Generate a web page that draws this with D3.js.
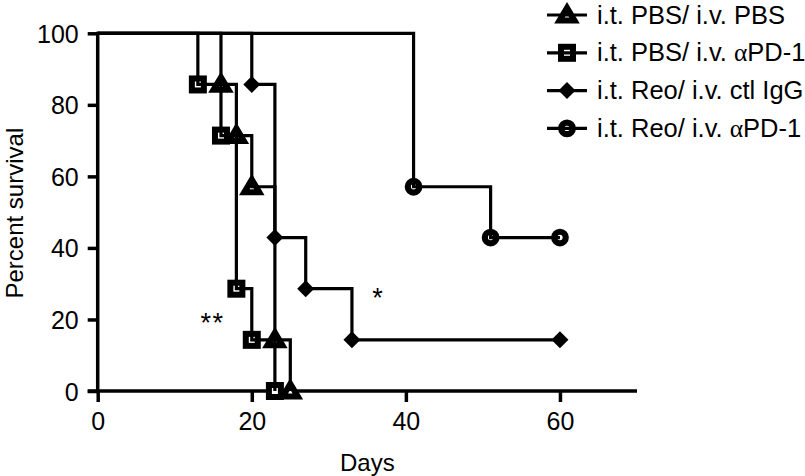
<!DOCTYPE html>
<html>
<head>
<meta charset="utf-8">
<script src="https://cdn.jsdelivr.net/npm/d3@7"></script>
<style>
  html, body { margin: 0; padding: 0; background: #fff; }
  svg { display: block; }
  text { font-family: "Liberation Sans", Arial, Helvetica, sans-serif; fill: #000; }
</style>
</head>
<body>
<svg id="chart" width="805" height="476"></svg>
<script>
// ---- Data ----
const seriesNames = ["i.t. PBS/ i.v. PBS", "i.t. PBS/ i.v. \u03b1PD-1", "i.t. Reo/ i.v. ctl IgG", "i.t. Reo/ i.v. \u03b1PD-1"];
const seriesSymbols = ["triangle", "square", "diamond", "circle"];

const pbsPbsDays = [0, 16, 18, 20, 23, 25];
const pbsPbsSurvival = [100, 85.7, 71.4, 57.1, 14.3, 0];

const pbsPd1Days = [0, 13, 16, 18, 20, 23];
const pbsPd1Survival = [100, 85.7, 71.4, 28.6, 14.3, 0];

const reoIgGDays = [0, 20, 23, 27, 33, 60];
const reoIgGSurvival = [100, 85.7, 42.9, 28.6, 14.3, 14.3];

const reoPd1Days = [0, 41, 51, 60];
const reoPd1Survival = [100, 57.1, 42.9, 42.9];

const xTicks = [0, 20, 40, 60];
const yTicks = [0, 20, 40, 60, 80, 100];

const annotations = [
  { text: "**", day: 14.9, value: 16.4 },
  { text: "*", day: 36.4, value: 23.4 }
];

const seriesData = [
  { days: pbsPbsDays, surv: pbsPbsSurvival },
  { days: pbsPd1Days, surv: pbsPd1Survival },
  { days: reoIgGDays, surv: reoIgGSurvival },
  { days: reoPd1Days, surv: reoPd1Survival }
];

// ---- Layout ----
const svg = d3.select("#chart");
const x = d3.scaleLinear().domain([0, 70]).range([97.7, 637]);
const y = d3.scaleLinear().domain([0, 100]).range([391, 33.3]);

const tickFont = 25;
const titleFont = 24;
const legendFont = 25.5;

// Axes
const yAxis = d3.axisLeft(y).tickValues(yTicks).tickSize(10).tickPadding(9).tickFormat(d3.format("d"));
const xAxis = d3.axisBottom(x).tickValues(xTicks).tickSize(11).tickPadding(10).tickFormat(d3.format("d"));

const gy = svg.append("g").attr("transform", `translate(${x(0)},0)`).call(yAxis);
const gx = svg.append("g").attr("transform", `translate(0,${y(0)})`).call(xAxis);

[gx, gy].forEach(g => {
  g.select(".domain").remove();
  g.selectAll(".tick line").attr("stroke", "#000").attr("stroke-width", 3.5);
  g.selectAll(".tick text").attr("font-size", tickFont).attr("fill", "#000")
    .style("font-family", "'Liberation Sans', Arial, sans-serif");
});
gy.selectAll(".tick text").attr("dy", "0.36em");
// axis lines
svg.append("line").attr("x1", x(0)).attr("x2", x(0)).attr("y1", y(100) - 1.5).attr("y2", y(0))
  .attr("stroke", "#000").attr("stroke-width", 3.5);
svg.append("line").attr("x1", x(0) - 10).attr("x2", x(70)).attr("y1", y(0)).attr("y2", y(0))
  .attr("stroke", "#000").attr("stroke-width", 3.5);

// Axis titles
svg.append("text").attr("x", (x(0) + x(70)) / 2).attr("y", 470.5).attr("text-anchor", "middle")
  .attr("font-size", titleFont).text("Days");
svg.append("text").attr("transform", `translate(23,${(y(0) + y(100)) / 2 + 1}) rotate(-90)`)
  .attr("text-anchor", "middle").attr("font-size", titleFont).text("Percent survival");

// Symbols
function drawSymbol(g, type, cx, cy) {
  if (type === "triangle") {
    const w = 15, h = 12;
    g.append("path")
      .attr("d", `M${cx},${cy - h * 0.6} L${cx + w / 2},${cy + h * 0.45} L${cx - w / 2},${cy + h * 0.45} Z`)
      .attr("fill", "#fff").attr("stroke", "#000").attr("stroke-width", 6).attr("stroke-linejoin", "miter");
  } else if (type === "square") {
    const s = 12;
    g.append("rect").attr("x", cx - s / 2).attr("y", cy - s / 2).attr("width", s).attr("height", s)
      .attr("fill", "#fff").attr("stroke", "#000").attr("stroke-width", 6);
  } else if (type === "diamond") {
    const r = 8.5;
    g.append("path").attr("d", `M${cx},${cy - r} L${cx + r},${cy} L${cx},${cy + r} L${cx - r},${cy} Z`)
      .attr("fill", "#000").attr("stroke", "none");
  } else if (type === "circle") {
    g.append("circle").attr("cx", cx).attr("cy", cy).attr("r", 5.8)
      .attr("fill", "#fff").attr("stroke", "#000").attr("stroke-width", 6.2);
  }
}

// Markers (drawn first, lines go over them)
const markG = svg.append("g");
seriesData.forEach((s, k) => {
  s.days.forEach((d, i) => {
    if (i === 0) return;
    drawSymbol(markG, seriesSymbols[k], x(d), y(s.surv[i]));
  });
});

// Lines
const line = d3.line().x(d => x(d[0])).y(d => y(d[1])).curve(d3.curveStepAfter);
const linesG = svg.append("g");
seriesData.forEach(s => {
  const pts = s.days.map((d, i) => [d, s.surv[i]]);
  linesG.append("path").attr("d", line(pts)).attr("fill", "none")
    .attr("stroke", "#000").attr("stroke-width", 3.2).attr("stroke-linejoin", "miter").attr("stroke-linecap", "butt");
});

// Annotations
annotations.forEach(a => {
  svg.append("text").attr("x", x(a.day)).attr("y", y(a.value)).attr("text-anchor", "middle")
    .attr("font-size", 27).attr("letter-spacing", 1.5).text(a.text);
});

// Legend
const legendG = svg.append("g");
seriesNames.forEach((name, i) => {
  const ly = 15 + i * 37.8;
  drawSymbol(legendG, seriesSymbols[i], 567, ly);
  legendG.append("line").attr("x1", 547).attr("x2", 587).attr("y1", ly).attr("y2", ly)
    .attr("stroke", "#000").attr("stroke-width", 3.2);
  const t = legendG.append("text").attr("x", 597).attr("y", ly + 8.5).attr("font-size", legendFont);
  const parts = name.split("\u03b1");
  t.append("tspan").text(parts[0]);
  if (parts.length > 1) {
    t.append("tspan").style("font-family", "'Liberation Serif', 'Times New Roman', serif").text("\u03b1");
    t.append("tspan").text(parts[1]);
  }
});
</script>
</body>
</html>
